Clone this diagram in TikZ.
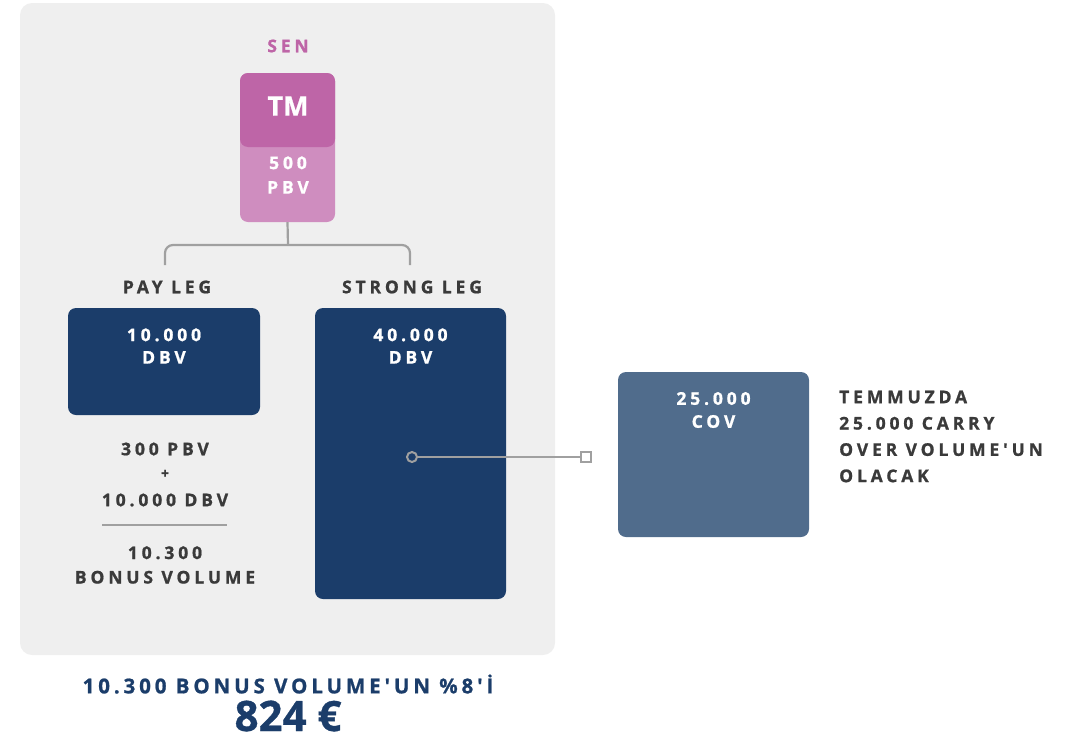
\documentclass[tikz,border=0pt]{standalone}
\usepackage{fontspec}
\setmainfont{Open Sans}[BoldFeatures={FakeBold=0.8}]
\newfontfamily\spaced[LetterSpace=22,BoldFeatures={FakeBold=1}]{Open Sans}
\newfontfamily\spacedw[LetterSpace=19,BoldFeatures={FakeBold=1}]{Open Sans}
\definecolor{panel}{HTML}{EFEFEF}
\definecolor{navy}{HTML}{1B3D6A}
\definecolor{slate}{HTML}{506C8C}
\definecolor{plum}{HTML}{BE65A7}
\definecolor{lilac}{HTML}{CF8DBF}
\definecolor{ink}{HTML}{3A3A3A}
\definecolor{wire}{HTML}{A0A0A0}
\begin{document}
\begin{tikzpicture}[x=1pt,y=-1pt,
  box/.style={rectangle,rounded corners=8pt,inner sep=0pt},
  t/.style={font=\spaced\bfseries\fontsize{17.5}{24.5}\selectfont,align=center,inner sep=0pt,text=white},
  h/.style={t,text=ink},
  e/.style={draw=wire,line width=2.2pt}]
\useasboundingbox (0,0) rectangle (1068,739);
\node[box,fill=panel,rounded corners=12pt,minimum width=535pt,minimum height=652pt] (panel) at (287.5,329) {};
\node[h,text=plum] (sen) at (288,46) {SEN};
\node[box,fill=lilac,minimum width=95pt,minimum height=149pt] (tm) at (287.5,147.5) {};
\node[box,fill=plum,minimum width=95pt,minimum height=74pt] (tmtop) at (287.5,110) {};
\node[font=\bfseries\fontsize{27}{30}\selectfont,text=white,inner sep=0pt] (tmtxt) at (288,106) {TM};
\node[t] (pbv) at (288,175) {500\\PBV};
\coordinate (fork) at (288,245);
\coordinate (payend) at (165,265);
\coordinate (strend) at (410,265);
\draw[e] (tm.south) -- (fork);
\draw[e,rounded corners=8pt] (payend) |- (fork) -| (strend);
\node[h] (paylbl) at (167,287) {PAY LEG};
\node[h] (strlbl) at (412,287) {STRONG LEG};
\node[box,fill=navy,minimum width=192pt,minimum height=107pt] (pay) at (164,361.5) {};
\node[t,font=\spaced\bfseries\fontsize{17.5}{22.5}\selectfont] (paytxt) at (164,346) {10.000\\DBV};
\node[box,fill=navy,minimum width=191pt,minimum height=291pt] (strong) at (410.5,453.5) {};
\node[t,font=\spaced\bfseries\fontsize{17.5}{22.5}\selectfont] (strtxt) at (410.5,346) {40.000\\DBV};
\node[box,fill=slate,minimum width=191pt,minimum height=165pt] (cov) at (713.5,454.5) {};
\node[t,font=\spaced\bfseries\fontsize{17.5}{23}\selectfont] (covtxt) at (713.5,410) {25.000\\COV};
\node[h,align=left,anchor=west,font=\spaced\bfseries\fontsize{17.5}{26.3}\selectfont] (note) at (839,436.5) {TEMMUZDA\\25.000 CARRY\\OVER VOLUME'UN\\OLACAK};
\node[circle,draw=wire,fill=navy,line width=2pt,minimum size=10pt,inner sep=0pt] (dot) at (412,457) {};
\node[rectangle,draw=wire,fill=white,line width=2pt,minimum size=10pt,inner sep=0pt] (sq) at (586,457) {};
\draw[e] (dot) -- (sq);
\node[h] (sum1) at (165,449) {300 PBV};
\node[h,font=\bfseries\fontsize{14}{16}\selectfont] (plus) at (165,474) {+};
\node[h] (sum2) at (165,500) {10.000 DBV};
\coordinate (barl) at (102,525);
\coordinate (barr) at (227,525);
\draw[e,line width=2.5pt] (barl) -- (barr);
\node[h] (bv) at (165,565) {10.300\\BONUS VOLUME};
\node[t,text=navy,font=\spacedw\bfseries\fontsize{20.5}{24}\selectfont] (title) at (288,684) {10.300 BONUS VOLUME'UN \%8'İ};
\node[font=\bfseries\fontsize{42}{46}\selectfont,text=navy,inner sep=0pt] (euro) at (288,716) {824 €};
\end{tikzpicture}
\end{document}
